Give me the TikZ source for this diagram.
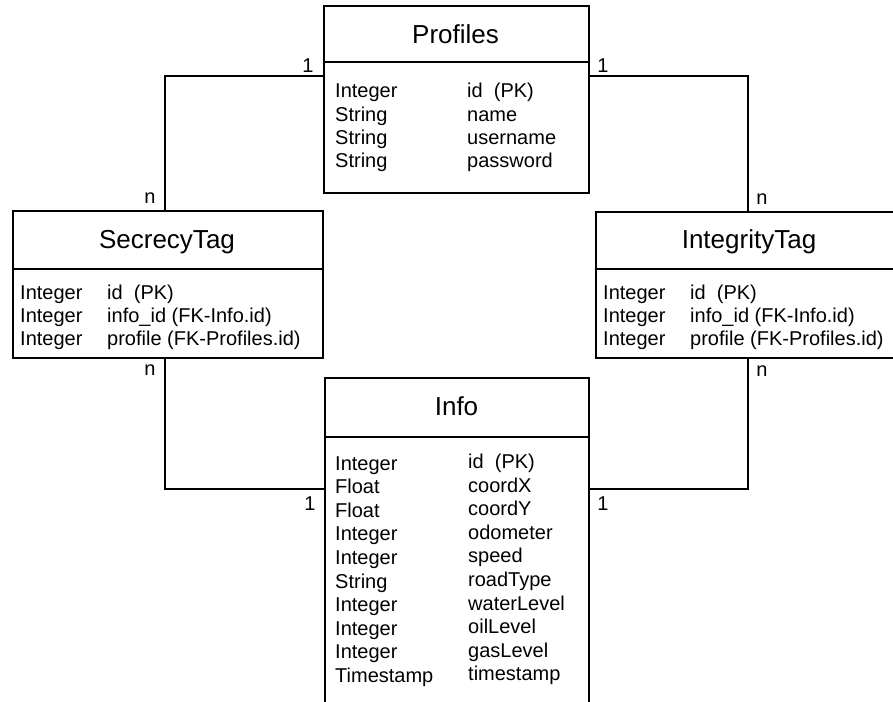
\documentclass[tikz,border=0pt]{standalone}
\usepackage{fontspec}
\setmainfont{Liberation Sans}
\usetikzlibrary{calc}
\begin{document}
\begin{tikzpicture}[x=1pt,y=-1pt,
  tbl/.style={draw, line width=1.7pt, anchor=north west, inner sep=0pt, fill=white},
  ttl/.style={anchor=base, inner sep=0pt, font=\fontsize{26}{31}\selectfont},
  row/.style={anchor=base west, inner sep=0pt, font=\fontsize{20}{24}\selectfont},
  lbl/.style={anchor=base, inner sep=0pt, font=\fontsize{20}{24}\selectfont},
  conn/.style={line width=1.7pt}]
\clip (0,0) rectangle (893,701);
\fill[white] (0,0) rectangle (893,701);

% tables
\node[tbl, minimum width=265pt, minimum height=187pt] (prof) at (323,5) {};
\node[tbl, minimum width=310pt, minimum height=147pt] (secr) at (12,210) {};
\node[tbl, minimum width=308pt, minimum height=146pt] (integ) at (595,211) {};
\node[tbl, minimum width=264pt, minimum height=343pt] (info) at (324,377) {};

% dividers
\draw[conn] ($(prof.north west)+(0,57)$) -- ($(prof.north east)+(0,57)$);
\draw[conn] ($(secr.north west)+(0,59)$) -- ($(secr.north east)+(0,59)$);
\draw[conn] ($(integ.north west)+(0,58)$) -- ($(integ.north east)+(0,58)$);
\draw[conn] ($(info.north west)+(0,60)$) -- ($(info.north east)+(0,60)$);

% titles
\node[ttl] (proft) at (455.5,43.5) {Profiles};
\node[ttl] (secrt) at (167,248) {SecrecyTag};
\node[ttl] (integt) at (749,248) {IntegrityTag};
\node[ttl] (infot) at (456.5,415) {Info};

% Profiles rows
\foreach \t [count=\i] in {Integer,String,String,String}
  \node[row] (pa\i) at (335,{97.7+(\i-1)*23.3}) {\t};
\foreach \t [count=\i] in {id\ \ (PK),name,username,password}
  \node[row] (pb\i) at (467,{97.7+(\i-1)*23.3}) {\t};

% SecrecyTag rows
\foreach \t [count=\i] in {Integer,Integer,Integer}
  \node[row] (sa\i) at (20,{299+(\i-1)*23.4}) {\t};
\foreach \t [count=\i] in {id\ \ (PK),info\_id (FK-Info.id),profile (FK-Profiles.id)}
  \node[row] (sb\i) at (107,{299+(\i-1)*23.4}) {\t};

% IntegrityTag rows
\foreach \t [count=\i] in {Integer,Integer,Integer}
  \node[row] (ia\i) at (603,{299+(\i-1)*23.4}) {\t};
\foreach \t [count=\i] in {id\ \ (PK),info\_id (FK-Info.id),profile (FK-Profiles.id)}
  \node[row] (ib\i) at (690,{299+(\i-1)*23.4}) {\t};

% Info rows
\foreach \t [count=\i] in {Integer,Float,Float,Integer,Integer,String,Integer,Integer,Integer,Timestamp}
  \node[row] (na\i) at (335,{470+(\i-1)*23.6}) {\t};
\foreach \t [count=\i] in {id\ \ (PK),coordX,coordY,odometer,speed,roadType,waterLevel,oilLevel,gasLevel,timestamp}
  \node[row] (nb\i) at (468,{468.5+(\i-1)*23.6}) {\t};

% connectors
\draw[conn] ($(prof.north west)+(0,71)$) -| ($(secr.north west)+(153,0)$);
\draw[conn] ($(prof.north east)+(0,71)$) -| ($(integ.north west)+(153,0)$);
\draw[conn] ($(secr.south west)+(153,0)$) |- ($(info.north west)+(0,112)$);
\draw[conn] ($(integ.south west)+(153,0)$) |- ($(info.north east)+(0,112)$);

% cardinality labels
\node[lbl] (l1) at (308,72) {1};
\node[lbl] (l2) at (603,72) {1};
\node[lbl] (l3) at (150,203.5) {n};
\node[lbl] (l4) at (762,204) {n};
\node[lbl] (l5) at (150,375.5) {n};
\node[lbl] (l6) at (762,376) {n};
\node[lbl] (l7) at (310,510) {1};
\node[lbl] (l8) at (603,510) {1};
\end{tikzpicture}
\end{document}
